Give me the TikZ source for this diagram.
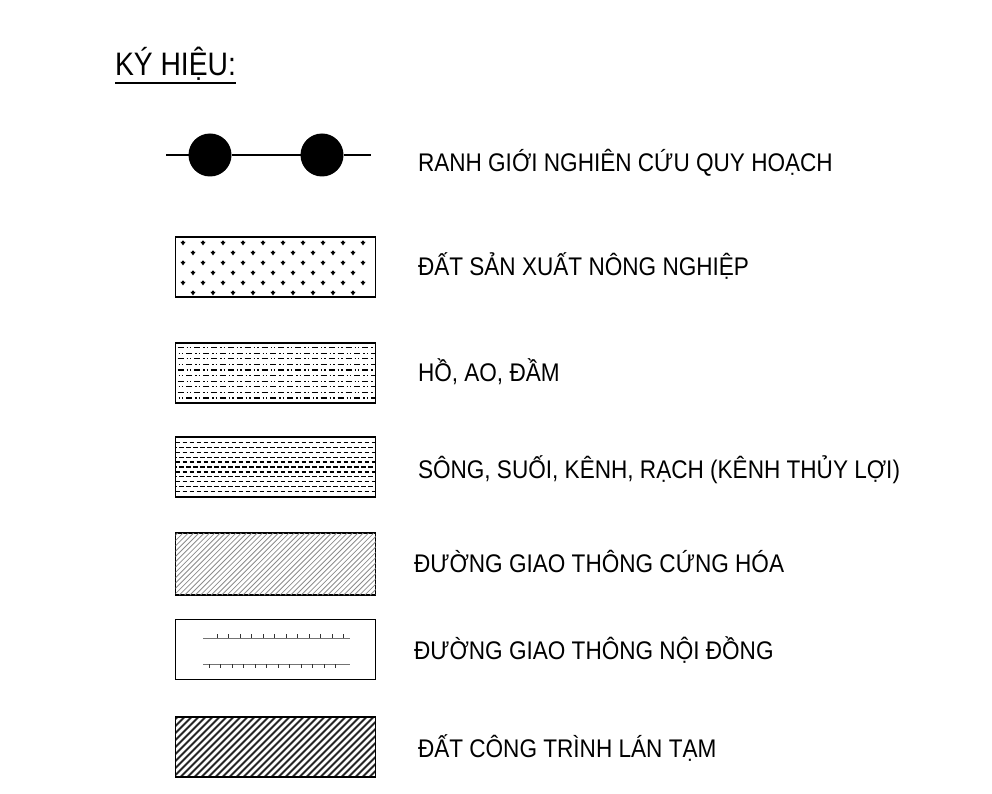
\documentclass[tikz,border=0pt]{standalone}
\usepackage{fontspec}
\setmainfont{Liberation Sans}
\newfontfamily\narrowfont[FakeStretch=0.885]{Liberation Sans}
\newfontfamily\titlefont[FakeStretch=0.87]{Liberation Sans}
\usetikzlibrary{positioning,calc}

\begin{document}
\begin{tikzpicture}[x=1pt,y=-1pt,
        every node/.style={inner sep=0pt, outer sep=0pt},
        legendbox/.style={draw, line width=1.3pt, minimum width=200pt, minimum height=60pt},
        legendtext/.style={font=\narrowfont\fontsize{25.5}{28}\selectfont, anchor=base west},
        bnddot/.style={circle, fill=black, minimum size=43pt},
        finehatch/.style={draw=black!45, line width=0.8pt},
        heavyhatch/.style={draw=black!85, line width=2pt},
        tickline/.style={draw=black!55, line width=0.8pt},
        tickmark/.style={draw=black!80, line width=0.7pt}
      ]
      \useasboundingbox (0,0) rectangle (992,794);
      % title
      \node[anchor=base west, font=\titlefont\fontsize{32.5}{36}\selectfont] (title) at (115,76) {KÝ HIỆU:};
      \draw[line width=1.4pt] ($(title.base west)+(0,7)$) -- ($(title.base east)+(0,7)$);

      % ranh gioi
      \coordinate (bndL) at (166,155);
      \coordinate (bndR) at (371,155);
      \node[bnddot] (dotA) at (210,155) {};
      \node[bnddot] (dotB) at (322,155) {};
      \draw[line width=1.3pt] (bndL) -- (dotA) -- (dotB) -- (bndR);
      \node[legendtext] (txtbnd) at (418,171.5) {RANH GIỚI NGHIÊN CỨU QUY HOẠCH};

      % dat san xuat nong nghiep
      \node[legendbox] (agri) at (275.5,267) {};
      \foreach \r in {0,...,5}{
        \pgfmathsetmacro{\yy}{243+10*\r}
        \pgfmathtruncatemacro{\odd}{mod(\r,2)}
        \pgfmathsetmacro{\xs}{183+10*\odd}
        \foreach \c in {0,...,9}{
          \pgfmathsetmacro{\xx}{\xs+20*\c}
          \ifdim \xx pt<372pt
            \fill (\xx-2.6,\yy-1.2) -- (\xx+2.6,\yy-1.2) -- (\xx,\yy+2.4) -- cycle;
            \fill (\xx,\yy-1.4) circle (1.2);
          \fi
        }
      }
      \node[legendtext] (txtagri) at (418,275) {ĐẤT SẢN XUẤT NÔNG NGHIỆP};

      % ho ao dam
      \node[legendbox] (lake) at (275.5,373) {};
      \begin{scope}
        \clip (lake.north west) rectangle (lake.south east);
        \foreach \r in {0,...,9}{
          \pgfmathtruncatemacro{\odd}{mod(\r,2)}
          \draw[line width=1.2pt, dash pattern=on 6pt off 3pt on 1.4pt off 2pt on 1.4pt off 3pt,
                dash phase=\odd*8pt] ($(lake.north west)+(2,4.5+5.6*\r)$) -- ($(lake.north east)+(0,4.5+5.6*\r)$);
        }
      \end{scope}
      \node[legendtext] (txtlake) at (418,381) {HỒ, AO, ĐẦM};

      % song suoi kenh rach
      \node[legendbox] (river) at (275.5,467) {};
      \begin{scope}
        \clip (river.north west) rectangle (river.south east);
        \foreach \r in {0,...,10}{
          \pgfmathtruncatemacro{\odd}{mod(\r,2)}
          \draw[line width=1.3pt, dash pattern=on 4.5pt off 2.5pt, dash phase=\odd*3.5pt]
            ($(river.north west)+(0,5.5+4.9*\r)$) -- ($(river.north east)+(0,5.5+4.9*\r)$);
        }
      \end{scope}
      \node[legendtext] (txtriver) at (418,478) {SÔNG, SUỐI, KÊNH, RẠCH (KÊNH THỦY LỢI)};

      % duong giao thong cung hoa
      \node[legendbox, minimum height=62pt] (road) at (275.5,564) {};
      \begin{scope}
        \clip (road.north west) rectangle (road.south east);
        \foreach \i in {0,...,50}
          \draw[finehatch] ($(road.south west)+(-65+5.3*\i,0)$) -- ++(65,-65);
      \end{scope}
      \node[legendtext] (txtroad) at (414,572) {ĐƯỜNG GIAO THÔNG CỨNG HÓA};

      % duong giao thong noi dong
      \node[legendbox] (field) at (275.5,649.5) {};
      \coordinate (fieldTL) at (203,638);
      \coordinate (fieldTR) at (350,638);
      \coordinate (fieldBL) at (203,664);
      \coordinate (fieldBR) at (350,664);
      \draw[tickline] (fieldTL) -- (fieldTR);
      \draw[tickline] (fieldBL) -- (fieldBR);
      \foreach \k in {0,...,11}{
        \draw[tickmark] ($(fieldTL)+(14+11.5*\k,0)$) -- ++(0,-4);
        \draw[tickmark] ($(fieldBL)+(6+11.5*\k,0)$) -- ++(0,4);
      }
      \node[legendtext] (txtfield) at (414,659) {ĐƯỜNG GIAO THÔNG NỘI ĐỒNG};

      % dat cong trinh lan tam
      \node[legendbox] (camp) at (275.5,747) {};
      \begin{scope}
        \clip (camp.north west) rectangle (camp.south east);
        \foreach \i in {0,...,38}
          \draw[heavyhatch] ($(camp.south west)+(-65+7*\i,0)$) -- ++(65,-65);
      \end{scope}
      \draw[line width=1.3pt] (camp.north west) rectangle (camp.south east);
      \node[legendtext] (txtcamp) at (418,757) {ĐẤT CÔNG TRÌNH LÁN TẠM};
    \end{tikzpicture}
\end{document}
